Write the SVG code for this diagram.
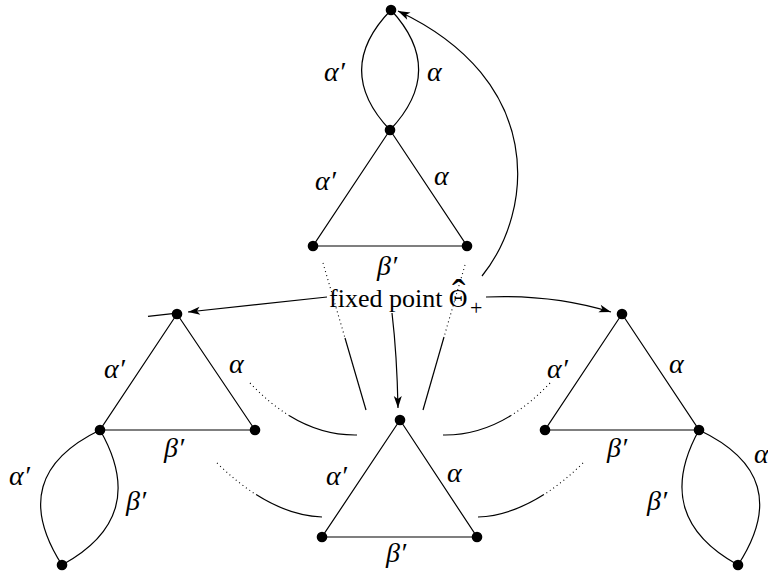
<svg xmlns="http://www.w3.org/2000/svg" width="768" height="573" viewBox="0 0 768 573">
<style>
.e{fill:none;stroke:#000;stroke-width:1.2}
.d{fill:none;stroke:#000;stroke-width:1.1;stroke-dasharray:1 3.2}
.n{fill:#000}
.l{font-family:"Liberation Serif","Times New Roman",serif;font-style:italic;font-size:28px;fill:#000}
.t{font-family:"Liberation Serif","Times New Roman",serif;font-size:26px;fill:#000}
</style>
<defs>
<marker id="ah" viewBox="-13 -5 14 10" markerWidth="14" markerHeight="10" refX="0" refY="0" orient="auto" markerUnits="userSpaceOnUse">
<path d="M0,0 L-12,-4 L-9,0 L-12,4 z" fill="#000"/>
</marker>
</defs>
<rect width="768" height="573" fill="#fff"/>
<g id="connectors">
<path class="e" d="M390,130 C352,90 352,50 391,10"/>
<path class="e" d="M390,130 C428,90 428,50 391,10"/>
<path class="e" d="M390,130 L313,246 L467,246 Z"/>
<path class="e" d="M177,314 L100,430 L255,430 Z"/>
<path class="e" d="M100,430 Q5,476 62,565"/>
<path class="e" d="M100,430 Q150,517 62,565"/>
<path class="e" d="M400,420 L322,537 L477,537 Z"/>
<path class="e" d="M622,314 L545,430 L699,430 Z"/>
<path class="e" d="M699,430 Q651,517 738,565"/>
<path class="e" d="M699,430 Q796,476 738,565"/>
<path class="d" d="M323,263 L345,338"/>
<path class="e" d="M345,338 L366,410"/>
<path class="d" d="M465,265 L444,337"/>
<path class="e" d="M444,337 L423,410"/>
<path class="d" d="M250,383 Q269,403.1 289,415.5"/>
<path class="e" d="M289,415.5 Q321.7,435.6 357,435"/>
<path class="d" d="M550,383 Q531,403.1 511,415.5"/>
<path class="e" d="M511,415.5 Q478.3,435.6 443,435"/>
<path class="d" d="M217,463 Q236.6,482.2 256.1,494.6"/>
<path class="e" d="M256.1,494.6 Q289.2,515.7 322,517"/>
<path class="d" d="M583,463 Q563.4,482.2 543.9,494.6"/>
<path class="e" d="M543.9,494.6 Q510.8,515.7 478,517"/>
<path class="e" d="M482,276 C535,210 545,80 398,11" marker-end="url(#ah)"/>
<path class="e" d="M327,297 L188,312" marker-end="url(#ah)"/>
<path class="e" d="M177,313.2 L148,316.4"/>
<path class="e" d="M486,297 Q552,294 611,312" marker-end="url(#ah)"/>
<path class="e" d="M392,313 Q397,355 398,408" marker-end="url(#ah)"/>
</g>
<g id="nodes">
<circle id="n-top0" class="n" cx="391" cy="10" r="5.3"/>
<circle id="n-top1" class="n" cx="390" cy="130" r="5.3"/>
<circle id="n-top-bl" class="n" cx="313" cy="246" r="5.3"/>
<circle id="n-top-br" class="n" cx="467" cy="246" r="5.3"/>
<circle id="n-left-apex" class="n" cx="177" cy="314" r="5.3"/>
<circle id="n-left-bl" class="n" cx="100" cy="430" r="5.3"/>
<circle id="n-left-br" class="n" cx="255" cy="430" r="5.3"/>
<circle id="n-left-bottom" class="n" cx="62" cy="565" r="5.3"/>
<circle id="n-center-apex" class="n" cx="400" cy="420" r="5.3"/>
<circle id="n-center-bl" class="n" cx="322" cy="537" r="5.3"/>
<circle id="n-center-br" class="n" cx="477" cy="537" r="5.3"/>
<circle id="n-right-apex" class="n" cx="622" cy="314" r="5.3"/>
<circle id="n-right-bl" class="n" cx="545" cy="430" r="5.3"/>
<circle id="n-right-br" class="n" cx="699" cy="430" r="5.3"/>
<circle id="n-right-bottom" class="n" cx="738" cy="565" r="5.3"/>
</g>
<g id="labels">
<text class="l" x="324" y="81">α′</text>
<text class="l" x="427" y="81">α</text>
<text class="l" x="315" y="190">α′</text>
<text class="l" x="434" y="185">α</text>
<text class="l" x="377" y="275">β′</text>
<text class="l" x="104" y="378">α′</text>
<text class="l" x="229" y="373">α</text>
<text class="l" x="164" y="457">β′</text>
<text class="l" x="9" y="485">α′</text>
<text class="l" x="126" y="510">β′</text>
<text class="l" x="326" y="485">α′</text>
<text class="l" x="447" y="482">α</text>
<text class="l" x="386" y="562">β′</text>
<text class="l" x="547" y="378">α′</text>
<text class="l" x="669" y="373">α</text>
<text class="l" x="607" y="457">β′</text>
<text class="l" x="647" y="510">β′</text>
<text class="l" x="754" y="463">α</text>
</g>
<g id="fixed-point-label">
<text class="t" x="329" y="307">fixed point Θ<tspan x="452" y="307" font-size="40">ˆ</tspan><tspan x="470" y="315" font-size="22">+</tspan></text>
</g>
</svg>
